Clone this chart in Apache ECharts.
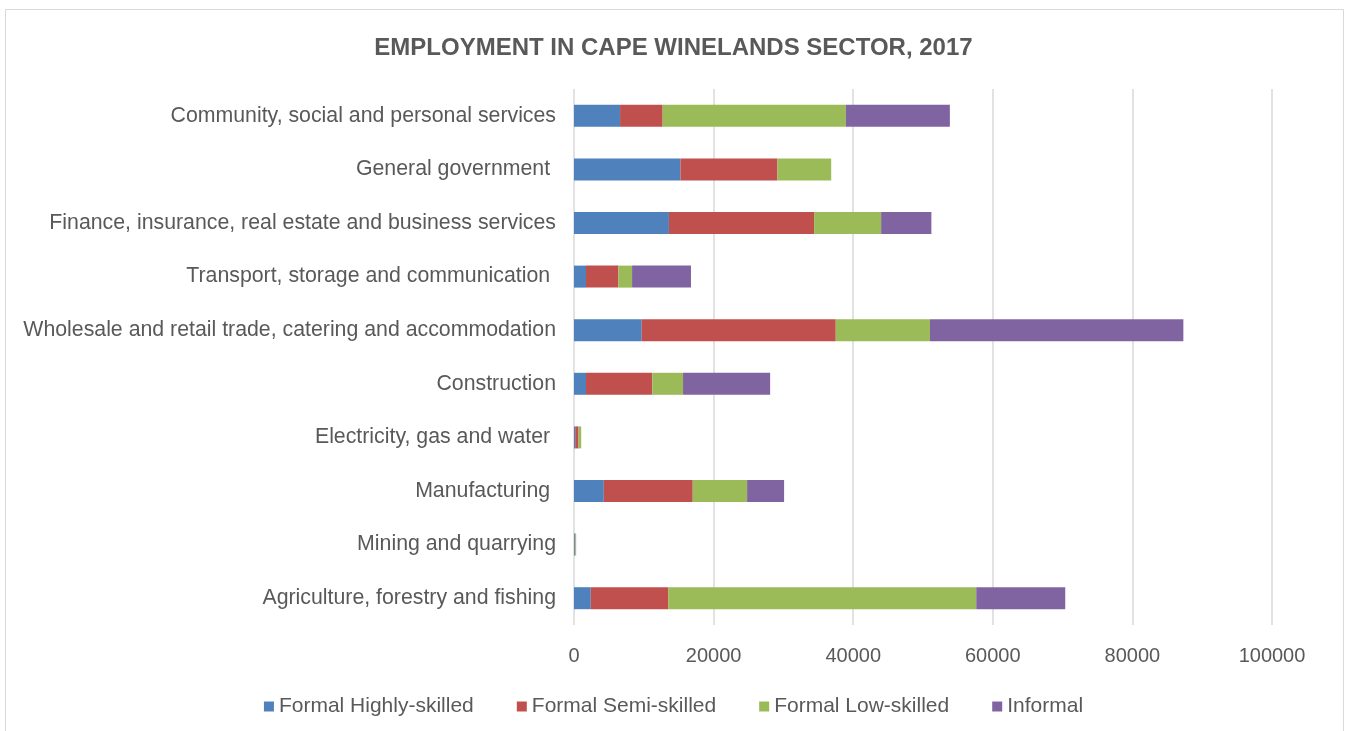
<!DOCTYPE html>
<html>
<head>
<meta charset="utf-8">
<script src="https://cdn.jsdelivr.net/npm/echarts@6/dist/echarts.min.js"></script>
<style>html,body{margin:0;padding:0;background:#fff;}#c{width:1347px;height:731px;}</style>
</head>
<body>
<div id="c"></div>
<script>
// Categories bottom to top (as ECharts category axis draws from bottom)
const categories = [
  "Agriculture, forestry and fishing",
  "Mining and quarrying",
  "Manufacturing ",
  "Electricity, gas and water ",
  "Construction",
  "Wholesale and retail trade, catering and accommodation",
  "Transport, storage and communication ",
  "Finance, insurance, real estate and business services",
  "General government ",
  "Community, social and personal services"
];
const seriesNames = ["Formal Highly-skilled", "Formal Semi-skilled", "Formal Low-skilled", "Informal"];
const highlySkilled = [2400, 120, 4270, 170, 1720, 9700, 1720, 13600, 15250, 6600];
const semiSkilled   = [11130, 60, 12740, 480, 9500, 27800, 4640, 20800, 13900, 6100];
const lowSkilled    = [44100, 100, 7790, 380, 4400, 13500, 1960, 9600, 7700, 26250];
const informal      = [12750, 20, 5300, 0, 12480, 36300, 8440, 7200, 0, 14900];
const xTicks = [0, 20000, 40000, 60000, 80000, 100000];
const colors = ["#4f81bd", "#c0504d", "#9bbb59", "#8064a2"];

const chart = echarts.init(document.getElementById('c'));
const dataSets = [highlySkilled, semiSkilled, lowSkilled, informal];
chart.setOption({
  animation: false,
  backgroundColor: '#fff',
  graphic: [{
    type: 'rect', shape: {x: 5.5, y: 9.5, width: 1338, height: 740},
    style: {fill: 'none', stroke: '#d9d9d9', lineWidth: 1}, silent: true, z: -1
  }],
  title: {
    text: 'EMPLOYMENT IN CAPE WINELANDS SECTOR, 2017',
    left: 'center', top: 31,
    textStyle: {fontFamily: 'Liberation Sans', fontSize: 24, fontWeight: 'bold', color: '#595959'}
  },
  legend: {
    data: seriesNames, top: 691, left: 'center',
    itemWidth: 10, itemHeight: 10, itemGap: 43, icon: 'rect',
    textStyle: {fontFamily: 'Liberation Sans', fontSize: 21, color: '#595959'}
  },
  grid: {left: 574, right: 75, top: 89, bottom: 106, containLabel: false},
  xAxis: {
    type: 'value', min: xTicks[0], max: xTicks[xTicks.length - 1], interval: 20000,
    axisLine: {show: false}, axisTick: {show: false},
    splitLine: {lineStyle: {color: '#d9d9d9', width: 1.5}},
    axisLabel: {fontFamily: 'Liberation Sans', fontSize: 20, color: '#595959', margin: 21,
      formatter: v => String(v)}
  },
  yAxis: {
    type: 'category', data: categories,
    axisLine: {show: false}, axisTick: {show: false},
    axisLabel: {fontFamily: 'Liberation Sans', fontSize: 21.3, color: '#595959', margin: 18}
  },
  series: seriesNames.map((n, i) => ({
    name: n, type: 'bar', stack: 'total', data: dataSets[i],
    barWidth: 22, itemStyle: {color: colors[i]}
  }))
});
</script>
</body>
</html>
